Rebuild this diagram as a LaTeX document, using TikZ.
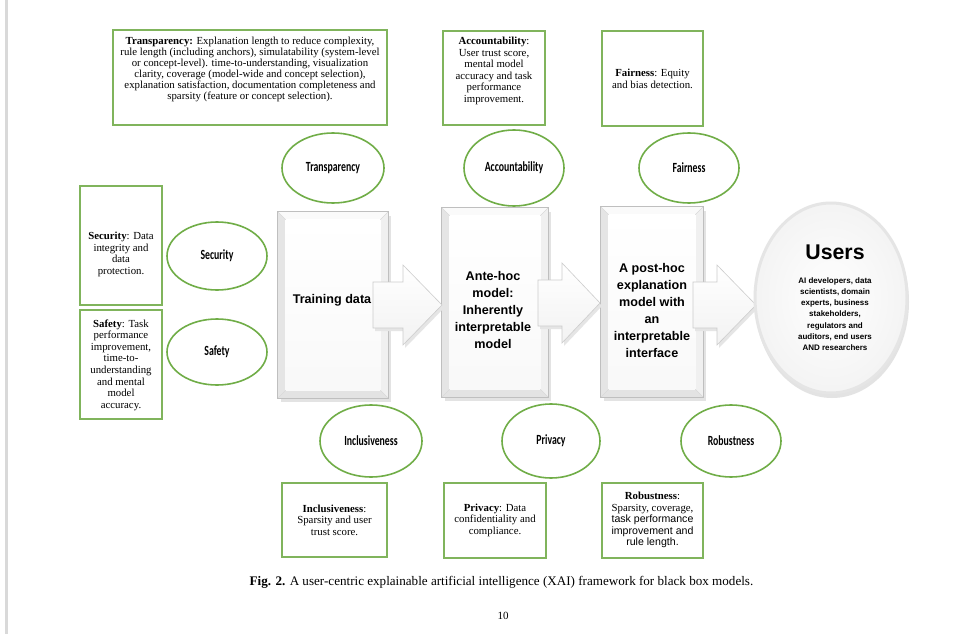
\documentclass[tikz,border=0pt]{standalone}
\usepackage{fontspec}
\setmainfont{Liberation Serif}
\setsansfont{Liberation Sans}
\newfontfamily\lblfont{Carlito}
\usetikzlibrary{shapes.geometric,calc}
\definecolor{egreen}{RGB}{112,173,71}
\definecolor{boxgreen}{RGB}{128,180,92}
\newcommand\attrlbl[1]{\scalebox{0.7}[1]{#1}}
\tikzset{
  gbox/.style={draw=boxgreen, line width=1.1pt, fill=white, inner sep=0pt},
  btext/.style={align=center, inner sep=0pt, font=\fontsize{10.8}{11.6}\selectfont},
  attr/.style={ellipse, draw=egreen, line width=1.6pt, fill=white, inner sep=0pt,
    font=\lblfont\bfseries\fontsize{14}{16}\selectfont},
  panelbox/.style={draw=gray!45, line width=0.6pt, fill=gray!12, inner sep=0pt},
  ptext/.style={align=center, inner sep=0pt, font=\sffamily\bfseries\fontsize{12.6}{17}\selectfont},
  barrow/.style={draw=gray!40, line width=0.6pt, top color=white, bottom color=gray!10},
  bshadow/.style={fill=gray!20}
}
\newcommand\bevpanel[5]{%
  \fill[gray!22] (#2-#4/2+3,#3-#5/2+4) rectangle (#2+#4/2+3,#3+#5/2+4);
  \node[panelbox, minimum width=#4, minimum height=#5] (#1) at (#2,#3) {};
  \fill[gray!20] (#1.north west) -- (#1.south west) -- ($(#1.south west)+(8,-8)$) -- ($(#1.north west)+(8,8)$) -- cycle;
  \fill[gray!4] (#1.north west) -- (#1.north east) -- ($(#1.north east)+(-8,8)$) -- ($(#1.north west)+(8,8)$) -- cycle;
  \fill[gray!12] (#1.north east) -- (#1.south east) -- ($(#1.south east)+(-8,-8)$) -- ($(#1.north east)+(-8,8)$) -- cycle;
  \fill[gray!22] (#1.south west) -- (#1.south east) -- ($(#1.south east)+(-8,-8)$) -- ($(#1.south west)+(8,-8)$) -- cycle;
  \shade[top color=white, bottom color=gray!5] ($(#1.north west)+(8,8)$) rectangle ($(#1.south east)+(-8,-8)$);
  \draw[gray!30, line width=0.4pt] (#1.north west) -- ($(#1.north west)+(8,8)$) (#1.north east) -- ($(#1.north east)+(-8,8)$)
     (#1.south west) -- ($(#1.south west)+(8,-8)$) (#1.south east) -- ($(#1.south east)+(-8,-8)$);
  \draw[gray!50, line width=0.6pt] (#1.north west) rectangle (#1.south east);
}
\newcommand\blockarrow[4]{% x0, xbase, xtip, yc
  \fill[bshadow] (#1+2,#4-23+3) -- (#2+2,#4-23+3) -- (#2+2,#4-40+3) -- (#3+2,#4+3) -- (#2+2,#4+40+3) -- (#2+2,#4+23+3) -- (#1+2,#4+23+3) -- cycle;
  \path[barrow] (#1,#4-23) -- (#2,#4-23) -- (#2,#4-40) -- (#3,#4) -- (#2,#4+40) -- (#2,#4+23) -- (#1,#4+23) -- cycle;
}
\begin{document}
\begin{tikzpicture}[x=1pt,y=-1pt]
\useasboundingbox (0,0) rectangle (970,634);
\fill[white] (0,0) rectangle (970,634);
\fill[gray!30] (4.5,0) rectangle (7.5,634);

% top description boxes
\node[gbox, minimum width=274, minimum height=95] (tbox) at (250,77.5) {};
\node[btext, font=\fontsize{10.8}{11}\selectfont] (ttext) at (250,69) {\textbf{Transparency:} Explanation length to reduce complexity,\\
rule length (including anchors), simulatability (system-level\\
or concept-level). time-to-understanding, visualization\\
clarity, coverage (model-wide and concept selection),\\
explanation satisfaction, documentation completeness and\\
sparsity (feature or concept selection).};

\node[gbox, minimum width=102, minimum height=94] (abox) at (494,78) {};
\node[btext] (atext) at (494,71) {\textbf{Accountability}:\\ User trust score,\\ mental model\\ accuracy and task\\ performance\\ improvement.};

\node[gbox, minimum width=101, minimum height=95] (fbox) at (652.5,78.5) {};
\node[btext] (ftext) at (652.5,79) {\textbf{Fairness}: Equity\\ and bias detection.};

% left description boxes
\node[gbox, minimum width=82, minimum height=119] (secbox) at (121,245.5) {};
\node[btext] (sectext) at (121,254.5) {\textbf{Security}: Data\\ integrity and\\ data\\ protection.};

\node[gbox, minimum width=82, minimum height=109] (safbox) at (121,364.5) {};
\node[btext] (saftext) at (121,365) {\textbf{Safety}: Task\\ performance\\ improvement,\\ time-to-\\ understanding\\ and mental\\ model\\ accuracy.};

% bottom description boxes
\node[gbox, minimum width=105, minimum height=74] (ibox) at (334.5,520) {};
\node[btext] (itext) at (334.5,520) {\textbf{Inclusiveness}:\\ Sparsity and user\\ trust score.};

\node[gbox, minimum width=102, minimum height=75] (pbox) at (495,520.5) {};
\node[btext] (ptext) at (495,520) {\textbf{Privacy}: Data\\ confidentiality and\\ compliance.};

\node[gbox, minimum width=101, minimum height=75] (rbox) at (652.5,520.5) {};
\node[btext] (rtext) at (652.5,520) {\textbf{Robustness}:\\ Sparsity, coverage,\\ {\sffamily\fontsize{10.6}{11.6}\selectfont task performance}\\ {\sffamily\fontsize{10.6}{11.6}\selectfont improvement and}\\ {\sffamily\fontsize{10.6}{11.6}\selectfont rule length.}};

% attribute ellipses
\node[attr, minimum width=102, minimum height=70] (etrans) at (333,168) {\attrlbl{Transparency}};
\node[attr, minimum width=100, minimum height=76] (eacc) at (514,168) {\attrlbl{Accountability}};
\node[attr, minimum width=100, minimum height=70] (efair) at (689,168) {\attrlbl{Fairness}};
\node[attr, minimum width=100, minimum height=68] (esec) at (217,256) {\attrlbl{Security}};
\node[attr, minimum width=100, minimum height=66] (esaf) at (217,352) {\attrlbl{Safety}};
\node[attr, minimum width=102, minimum height=72] (eincl) at (371,441) {\attrlbl{Inclusiveness}};
\node[attr, minimum width=98, minimum height=74] (epriv) at (551,441) {\attrlbl{Privacy}};
\node[attr, minimum width=100, minimum height=72] (erob) at (731,441) {\attrlbl{Robustness}};

% panels
\bevpanel{p1}{333}{305}{110}{186}
\bevpanel{p2}{495}{302.5}{106}{189}
\bevpanel{p3}{652}{302}{102}{190}

% block arrows
\blockarrow{373}{403}{442}{305}
\blockarrow{538}{562}{600}{303}
\blockarrow{693}{717}{756}{305}

\node[ptext] (t1) at (332,300) {Training data};
\node[ptext] (t2) at (493,310) {Ante-hoc\\ model:\\ Inherently\\ interpretable\\ model};
\node[ptext] (t3) at (652,310) {A post-hoc\\ explanation\\ model with\\ an\\ interpretable\\ interface};

% users
\fill[gray!22] (832,302) ellipse [x radius=77, y radius=96];
\node[ellipse, minimum width=152, minimum height=190, draw=gray!20, line width=3pt,
      inner color=white, outer color=gray!9, inner sep=0pt] (users) at (831,298) {};
\node[font=\sffamily\bfseries\fontsize{21.3}{24}\selectfont, inner sep=0pt] (utitle) at (835,252) {Users};
\node[align=center, inner sep=0pt, font=\sffamily\bfseries\fontsize{8}{11.2}\selectfont] (usub) at (835,314) {AI developers, data\\ scientists, domain\\ experts, business\\ stakeholders,\\ regulators and\\ auditors, end users\\ AND researchers};

% caption and page number
\node[font=\fontsize{13.1}{15}\selectfont, inner sep=0pt] (cap) at (501.5,582) {\textbf{Fig. 2.} A user-centric explainable artificial intelligence (XAI) framework for black box models.};
\node[font=\fontsize{11}{13}\selectfont, inner sep=0pt] (pg) at (503,616) {10};
\end{tikzpicture}
\end{document}
